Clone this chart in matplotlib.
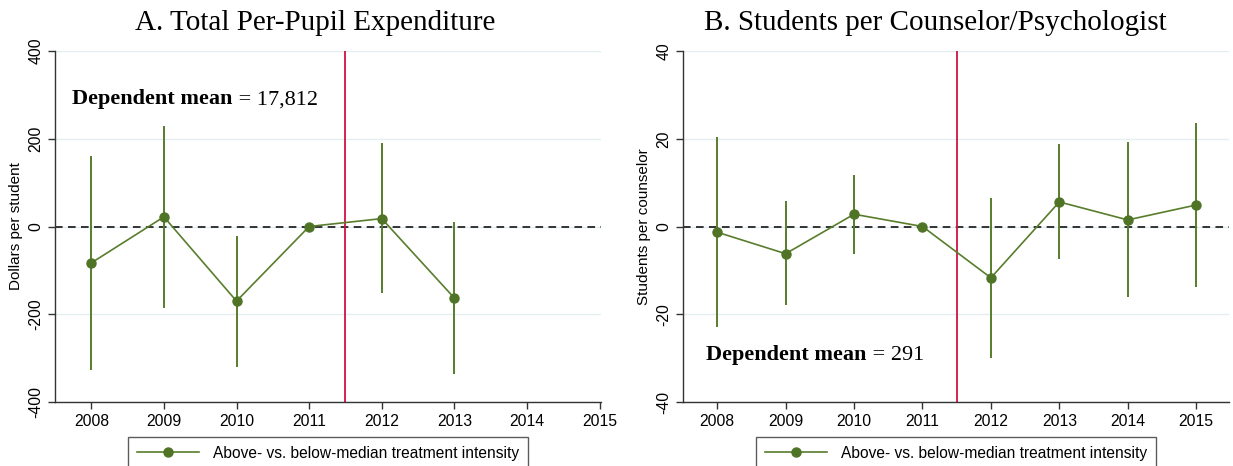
import matplotlib
matplotlib.use("Agg")
import matplotlib.pyplot as plt
from matplotlib.lines import Line2D

plt.rcParams["axes.unicode_minus"] = False

# ---- data ----
years_a = [2008, 2009, 2010, 2011, 2012, 2013]
coef_a = [-83, 22, -170, 0, 18, -163]
lo_a = [-327, -185, -320, 0, -152, -337]
hi_a = [160, 230, -22, 0, 190, 10]

years_b = [2008, 2009, 2010, 2011, 2012, 2013, 2014, 2015]
coef_b = [-1.3, -6.2, 2.8, 0, -11.7, 5.6, 1.5, 4.9]
lo_b = [-23.0, -18.0, -6.2, 0, -30.0, -7.5, -16.0, -13.8]
hi_b = [20.3, 5.8, 11.8, 0, 6.5, 18.8, 19.2, 23.5]

xticks = [2008, 2009, 2010, 2011, 2012, 2013, 2014, 2015]
title_a = "A. Total Per-Pupil Expenditure"
title_b = "B. Students per Counselor/Psychologist"
ylabel_a = "Dollars per student"
ylabel_b = "Students per counselor"
yticks_a = [-400, -200, 0, 200, 400]
yticks_b = [-40, -20, 0, 20, 40]
legend_label = "Above- vs. below-median treatment intensity"
mean_a = "17,812"
mean_b = "291"

GREEN = "#587d2c"
MARK = "#4f7426"
RED = "#cf1240"
GRID = "#e3eef1"
SANS = ["Liberation Sans", "DejaVu Sans"]
SERIF = ["Liberation Serif", "DejaVu Serif"]

fig = plt.figure(figsize=(12.33, 4.66), dpi=100)
W, H = 1233, 466

def px_axes(x0, x1, ytop, ybot):
    return fig.add_axes([x0 / W, 1 - ybot / H, (x1 - x0) / W, (ybot - ytop) / H])

ax_a = px_axes(55, 601, 51, 402)
ax_b = px_axes(683, 1229, 51, 402)

def style(ax, yticks, ylabel, title, xlim, title_x):
    ax.set_xlim(*xlim)
    ax.set_ylim(yticks[0], yticks[-1])
    ax.set_yticks(yticks)
    ax.set_xticks(xticks)
    for s in ("top", "right"):
        ax.spines[s].set_visible(False)
    for s in ("left", "bottom"):
        ax.spines[s].set_color("#333333")
        ax.spines[s].set_linewidth(1.0)
    ax.tick_params(axis="both", direction="out", length=5, width=1.0,
                   color="#333333", labelsize=11.3)
    for lab in ax.get_xticklabels():
        lab.set_family(SANS)
    for lab in ax.get_yticklabels():
        lab.set_family(SANS)
        lab.set_rotation(90)
        lab.set_va("center")
    ax.yaxis.grid(True, color=GRID, linewidth=1.0)
    ax.set_axisbelow(True)
    ax.set_ylabel(ylabel, family=SANS, fontsize=11, labelpad=4)
    ax.set_title(title, family=SERIF, fontsize=21, pad=15, x=title_x)

style(ax_a, yticks_a, ylabel_a, title_a, (2007.5, 2015.02), 0.476)
style(ax_b, yticks_b, ylabel_b, title_b, (2007.5, 2015.48), 0.462)

def draw(ax, years, coef, lo, hi, xvline):
    ax.axhline(0, color="black", linestyle=(0, (5, 3.5)), linewidth=1.1, zorder=2)
    ax.axvline(xvline, color=RED, linewidth=1.3, zorder=2)
    ax.vlines(years, lo, hi, color=GREEN, linewidth=1.4, zorder=3)
    ax.plot(years, coef, color=GREEN, linewidth=1.2, marker="o",
            markersize=6.5, markerfacecolor=MARK, markeredgecolor=MARK, zorder=4)

draw(ax_a, years_a, coef_a, lo_a, hi_a, 2011.5)
draw(ax_b, years_b, coef_b, lo_b, hi_b, 2011.5)

def mean_text(ax, x, y, value):
    t = ax.text(x, y, "Dependent mean", family=SERIF, fontsize=16,
                fontweight="bold", ha="left", va="center")
    ax.annotate(" = " + value, xy=(1, 0), xycoords=t, xytext=(0, 0),
                textcoords="offset points", family=SERIF, fontsize=16,
                ha="left", va="bottom")

mean_text(ax_a, 2007.74, 290, mean_a)
mean_text(ax_b, 2007.84, -29.4, mean_b)

handle = Line2D([], [], color=GREEN, linewidth=1.2, marker="o", markersize=6.5,
                markerfacecolor=MARK, markeredgecolor=MARK)

def legend(xc_px):
    lg = fig.legend([handle], [legend_label], loc="upper center",
                    bbox_to_anchor=(xc_px / W, 1 - 437 / H),
                    frameon=True, fancybox=False, edgecolor="#333333",
                    prop={"family": SANS, "size": 11.2}, handlelength=4.0,
                    borderpad=0.55, borderaxespad=0, handletextpad=0.9)
    lg.get_frame().set_linewidth(1.0)
    return lg

legend(328)
legend(956)

fig.savefig("out.png", dpi=100, facecolor="white")
